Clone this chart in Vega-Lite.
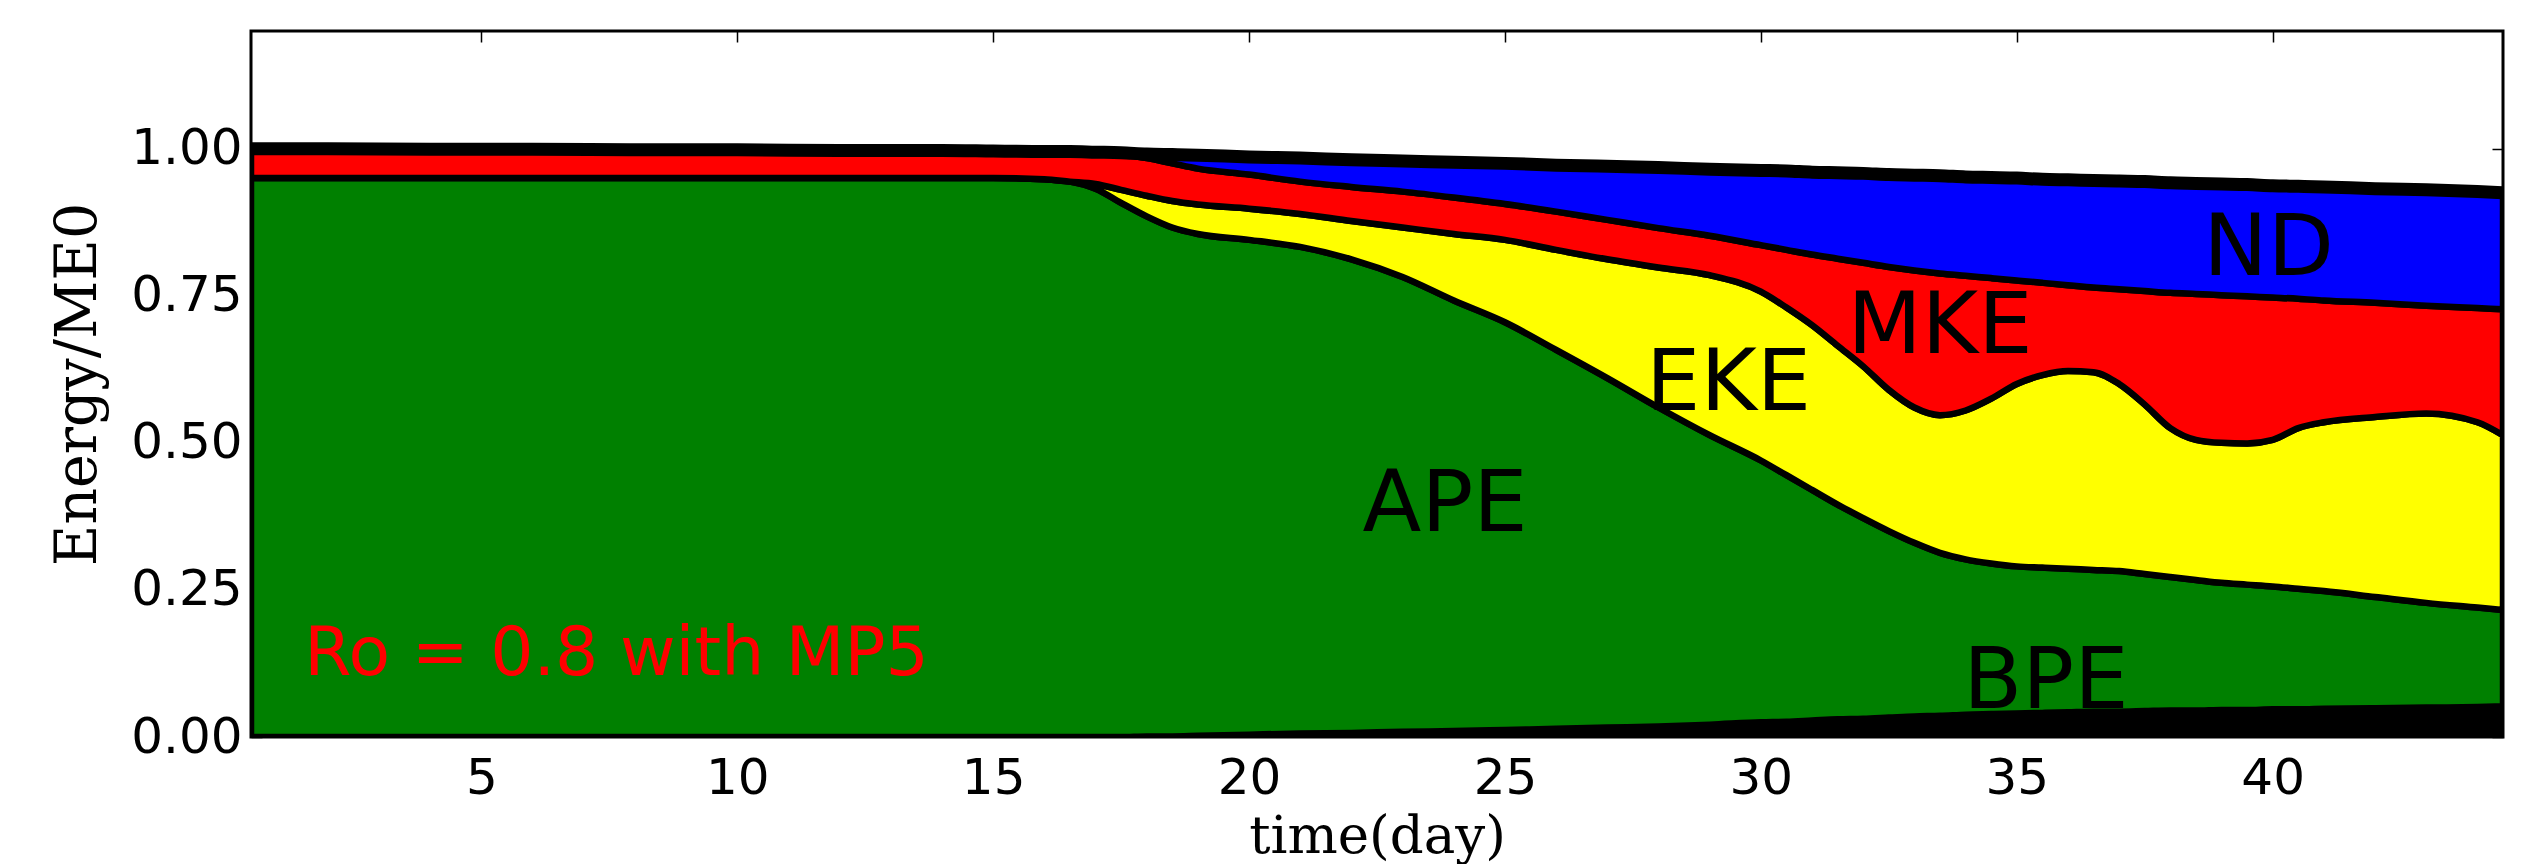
{
  "$schema": "https://vega.github.io/schema/vega-lite/v6.json",
  "width": 2252,
  "height": 706,
  "autosize": {"type": "none"},
  "padding": {"left": 251, "top": 31, "right": 36, "bottom": 127},
  "background": "white",
  "config": {
    "view": {"stroke": "black", "strokeWidth": 3},
    "font": "DejaVu Sans",
    "axis": {
      "labelFont": "DejaVu Sans",
      "labelFontSize": 50,
      "labelColor": "black",
      "tickColor": "black",
      "tickWidth": 1.5,
      "tickSize": -11,
      "domain": false,
      "grid": false,
      "titleFont": "DejaVu Serif",
      "titleFontWeight": "normal",
      "titleColor": "black"
    }
  },
  "datasets": {
    "energy": [
      {"day": 0.5, "BPE": 0, "APE": 0.950, "EKE": 0, "MKE": 0.050, "ND": 0},
      {"day": 2, "BPE": 0, "APE": 0.950, "EKE": 0, "MKE": 0.050, "ND": 0},
      {"day": 4, "BPE": 0, "APE": 0.950, "EKE": 0, "MKE": 0.049, "ND": 0},
      {"day": 6, "BPE": 0, "APE": 0.950, "EKE": 0, "MKE": 0.049, "ND": 0},
      {"day": 8, "BPE": 0, "APE": 0.950, "EKE": 0, "MKE": 0.048, "ND": 0},
      {"day": 10, "BPE": 0, "APE": 0.950, "EKE": 0, "MKE": 0.048, "ND": 0},
      {"day": 12, "BPE": 0, "APE": 0.950, "EKE": 0, "MKE": 0.047, "ND": 0},
      {"day": 14, "BPE": 0, "APE": 0.950, "EKE": 0, "MKE": 0.047, "ND": 0},
      {"day": 15, "BPE": 0, "APE": 0.950, "EKE": 0, "MKE": 0.046, "ND": 0},
      {"day": 16, "BPE": 0, "APE": 0.948, "EKE": 0, "MKE": 0.047, "ND": 0},
      {"day": 16.5, "BPE": 0, "APE": 0.944, "EKE": 0, "MKE": 0.051, "ND": 0},
      {"day": 17, "BPE": 0, "APE": 0.932, "EKE": 0.008, "MKE": 0.054, "ND": 0},
      {"day": 17.5, "BPE": 0, "APE": 0.908, "EKE": 0.022, "MKE": 0.060, "ND": 0.003},
      {"day": 18, "BPE": 0.001, "APE": 0.884, "EKE": 0.035, "MKE": 0.064, "ND": 0.007},
      {"day": 18.5, "BPE": 0.001, "APE": 0.865, "EKE": 0.045, "MKE": 0.064, "ND": 0.015},
      {"day": 19, "BPE": 0.002, "APE": 0.853, "EKE": 0.050, "MKE": 0.061, "ND": 0.023},
      {"day": 20, "BPE": 0.004, "APE": 0.841, "EKE": 0.053, "MKE": 0.058, "ND": 0.030},
      {"day": 21, "BPE": 0.006, "APE": 0.827, "EKE": 0.056, "MKE": 0.055, "ND": 0.040},
      {"day": 22, "BPE": 0.007, "APE": 0.805, "EKE": 0.065, "MKE": 0.058, "ND": 0.046},
      {"day": 23, "BPE": 0.009, "APE": 0.773, "EKE": 0.084, "MKE": 0.061, "ND": 0.052},
      {"day": 24, "BPE": 0.010, "APE": 0.732, "EKE": 0.113, "MKE": 0.062, "ND": 0.060},
      {"day": 25, "BPE": 0.012, "APE": 0.693, "EKE": 0.140, "MKE": 0.061, "ND": 0.069},
      {"day": 26, "BPE": 0.014, "APE": 0.644, "EKE": 0.170, "MKE": 0.065, "ND": 0.079},
      {"day": 27, "BPE": 0.016, "APE": 0.594, "EKE": 0.202, "MKE": 0.067, "ND": 0.091},
      {"day": 28, "BPE": 0.018, "APE": 0.542, "EKE": 0.238, "MKE": 0.067, "ND": 0.103},
      {"day": 29, "BPE": 0.021, "APE": 0.492, "EKE": 0.272, "MKE": 0.067, "ND": 0.113},
      {"day": 30, "BPE": 0.025, "APE": 0.445, "EKE": 0.287, "MKE": 0.079, "ND": 0.127},
      {"day": 30.5, "BPE": 0.026, "APE": 0.419, "EKE": 0.285, "MKE": 0.098, "ND": 0.134},
      {"day": 31, "BPE": 0.028, "APE": 0.392, "EKE": 0.280, "MKE": 0.120, "ND": 0.140},
      {"day": 31.5, "BPE": 0.030, "APE": 0.365, "EKE": 0.270, "MKE": 0.148, "ND": 0.146},
      {"day": 32, "BPE": 0.031, "APE": 0.341, "EKE": 0.258, "MKE": 0.176, "ND": 0.152},
      {"day": 32.5, "BPE": 0.033, "APE": 0.317, "EKE": 0.240, "MKE": 0.209, "ND": 0.157},
      {"day": 33, "BPE": 0.035, "APE": 0.295, "EKE": 0.230, "MKE": 0.233, "ND": 0.162},
      {"day": 33.5, "BPE": 0.036, "APE": 0.277, "EKE": 0.234, "MKE": 0.241, "ND": 0.166},
      {"day": 34, "BPE": 0.038, "APE": 0.264, "EKE": 0.253, "MKE": 0.229, "ND": 0.168},
      {"day": 34.5, "BPE": 0.039, "APE": 0.256, "EKE": 0.280, "MKE": 0.205, "ND": 0.171},
      {"day": 35, "BPE": 0.040, "APE": 0.250, "EKE": 0.310, "MKE": 0.176, "ND": 0.174},
      {"day": 35.5, "BPE": 0.041, "APE": 0.247, "EKE": 0.327, "MKE": 0.157, "ND": 0.176},
      {"day": 36, "BPE": 0.042, "APE": 0.244, "EKE": 0.336, "MKE": 0.146, "ND": 0.179},
      {"day": 36.5, "BPE": 0.043, "APE": 0.241, "EKE": 0.336, "MKE": 0.144, "ND": 0.182},
      {"day": 37, "BPE": 0.043, "APE": 0.239, "EKE": 0.318, "MKE": 0.161, "ND": 0.184},
      {"day": 37.5, "BPE": 0.044, "APE": 0.233, "EKE": 0.288, "MKE": 0.193, "ND": 0.186},
      {"day": 38, "BPE": 0.045, "APE": 0.227, "EKE": 0.253, "MKE": 0.230, "ND": 0.187},
      {"day": 38.5, "BPE": 0.045, "APE": 0.222, "EKE": 0.238, "MKE": 0.248, "ND": 0.188},
      {"day": 39, "BPE": 0.046, "APE": 0.216, "EKE": 0.238, "MKE": 0.251, "ND": 0.189},
      {"day": 39.5, "BPE": 0.046, "APE": 0.213, "EKE": 0.240, "MKE": 0.250, "ND": 0.190},
      {"day": 40, "BPE": 0.047, "APE": 0.209, "EKE": 0.249, "MKE": 0.242, "ND": 0.190},
      {"day": 40.5, "BPE": 0.047, "APE": 0.205, "EKE": 0.273, "MKE": 0.220, "ND": 0.191},
      {"day": 41, "BPE": 0.048, "APE": 0.200, "EKE": 0.287, "MKE": 0.207, "ND": 0.193},
      {"day": 42, "BPE": 0.049, "APE": 0.189, "EKE": 0.306, "MKE": 0.194, "ND": 0.194},
      {"day": 43, "BPE": 0.050, "APE": 0.178, "EKE": 0.322, "MKE": 0.183, "ND": 0.197},
      {"day": 44, "BPE": 0.051, "APE": 0.169, "EKE": 0.315, "MKE": 0.194, "ND": 0.198},
      {"day": 44.5, "BPE": 0.052, "APE": 0.164, "EKE": 0.297, "MKE": 0.214, "ND": 0.198}
    ],
    "labels": [
      {"label": "ND", "day": 39.92, "value": 0.785},
      {"label": "MKE", "day": 33.5, "value": 0.652},
      {"label": "EKE", "day": 29.37, "value": 0.556},
      {"label": "APE", "day": 23.83, "value": 0.35},
      {"label": "BPE", "day": 35.57, "value": 0.05}
    ],
    "note": [
      {"label": "Ro = 0.8 with MP5", "day": 1.54, "value": 0.105}
    ]
  },
  "layer": [
    {
      "data": {"name": "energy"},
      "transform": [
        {"fold": ["BPE", "APE", "EKE", "MKE", "ND"], "as": ["component", "value"]},
        {"calculate": "indexof(['BPE','APE','EKE','MKE','ND'], datum.component)", "as": "k"}
      ],
      "mark": {"type": "area", "stroke": "black", "strokeWidth": 6.5, "strokeJoin": "round", "interpolate": "monotone", "clip": true},
      "encoding": {
        "x": {
          "field": "day", "type": "quantitative",
          "scale": {"domain": [0.5, 44.5], "nice": false, "zero": false},
          "axis": {"orient": "bottom", "values": [5, 10, 15, 20, 25, 30, 35, 40], "labelPadding": 27,
                   "title": "time(day)", "titleFontSize": 53, "titleX": 1126, "titleY": 115,
                   "titleBaseline": "alphabetic", "titleAlign": "center"}
        },
        "y": {
          "field": "value", "type": "quantitative", "stack": "zero",
          "scale": {"domain": [0, 1.2], "nice": false},
          "axis": {"orient": "left", "values": [0, 0.25, 0.5, 0.75, 1.0], "format": ".2f", "labelPadding": 20,
                   "title": "Energy/ME0", "titleFontSize": 57, "titleX": -156, "titleY": 353,
                   "titleAngle": 270, "titleBaseline": "alphabetic", "titleAlign": "center"}
        },
        "color": {
          "field": "component", "type": "nominal",
          "scale": {"domain": ["BPE", "APE", "EKE", "MKE", "ND"], "range": ["#000000", "#008000", "#ffff00", "#ff0000", "#0000ff"]},
          "legend": null
        },
        "order": {"field": "k", "type": "quantitative"}
      }
    },
    {
      "data": {"name": "energy"},
      "transform": [
        {"fold": ["BPE", "APE", "EKE", "MKE", "ND"], "as": ["component", "value"]}
      ],
      "mark": {"type": "line", "color": "black", "strokeWidth": 13, "interpolate": "monotone", "clip": true},
      "encoding": {
        "x": {"field": "day", "type": "quantitative",
              "axis": {"orient": "top", "values": [5, 10, 15, 20, 25, 30, 35, 40], "labels": false, "title": null}},
        "y": {"aggregate": "sum", "field": "value", "type": "quantitative",
              "axis": {"orient": "right", "values": [0, 0.25, 0.5, 0.75, 1.0], "labels": false, "title": null}}
      }
    },
    {
      "data": {"name": "labels"},
      "mark": {"type": "text", "fontSize": 86, "font": "DejaVu Sans", "align": "center", "baseline": "alphabetic", "color": "black"},
      "encoding": {
        "x": {"field": "day", "type": "quantitative", "axis": null},
        "y": {"field": "value", "type": "quantitative", "axis": null},
        "text": {"field": "label"}
      }
    },
    {
      "data": {"name": "note"},
      "mark": {"type": "text", "fontSize": 68, "font": "DejaVu Sans", "align": "left", "baseline": "alphabetic", "color": "#ff0000"},
      "encoding": {
        "x": {"field": "day", "type": "quantitative", "axis": null},
        "y": {"field": "value", "type": "quantitative", "axis": null},
        "text": {"field": "label"}
      }
    }
  ],
  "resolve": {"axis": {"x": "independent", "y": "independent"}}
}
